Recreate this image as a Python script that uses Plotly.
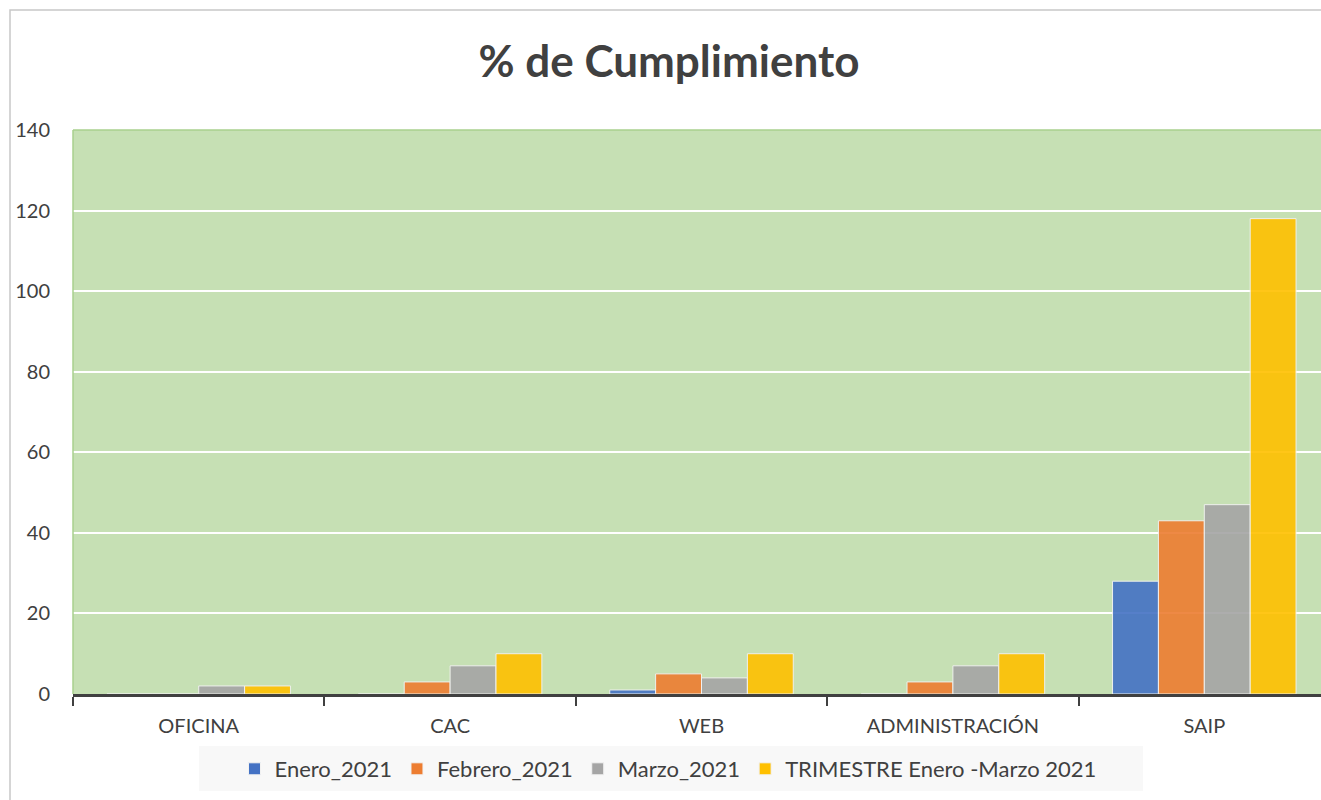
import plotly.graph_objects as go

categories = ["OFICINA", "CAC", "WEB", "ADMINISTRACIÓN", "SAIP"]
series_names = ["Enero_2021", "Febrero_2021", "Marzo_2021", "TRIMESTRE Enero -Marzo 2021"]
enero = [0, 0, 1, 0, 28]
febrero = [0, 3, 5, 3, 43]
marzo = [2, 7, 4, 7, 47]
trimestre = [2, 10, 10, 10, 118]
colors = ["#4472C4", "#ED7D31", "#A5A5A5", "#FFC000"]

FONT = "Lato"
W, H = 1321, 800
ML, MR, MT, MB = 73, 0, 130, 106
PW, PH = W - ML - MR, H - MT - MB

def px_x(p):
    return (p - ML) / PW

def px_y(p):
    return (H - MB - p) / PH

fig = go.Figure()
for name, vals, col in zip(series_names, [enero, febrero, marzo, trimestre], colors):
    fig.add_trace(go.Bar(
        name=name, x=categories, y=vals,
        marker=dict(color=col, opacity=0.9, line=dict(color="#F2F2F2", width=1)),
    ))

fig.update_layout(
    width=W, height=H,
    margin=dict(l=ML, r=MR, t=MT, b=MB),
    paper_bgcolor="white",
    plot_bgcolor="#C6E0B4",
    barmode="group",
    bargap=0.27,
    bargroupgap=0,
    font=dict(family=FONT, color="#404040"),
    title=dict(text="<b>% de Cumplimiento</b>", x=669 / W, xanchor="center",
               y=1 - 62 / H, yanchor="middle", font=dict(size=44, color="#404040", family=FONT)),
    showlegend=True,
    legend=dict(orientation="h", x=px_x(668), xanchor="center", y=px_y(769), yanchor="middle",
                bgcolor="rgba(0,0,0,0)", font=dict(size=22, color="#404040", family=FONT),
                itemwidth=30, traceorder="normal"),
    xaxis=dict(
        range=[-0.5, 4.5 - 9 / 251.5],
        showline=True, linecolor="#404040", linewidth=3,
        tickson="boundaries", ticks="outside", ticklen=9, tickwidth=2, tickcolor="#404040",
        tickfont=dict(size=20, color="#404040", family=FONT),
        ticklabelstandoff=12,
        showgrid=False,
    ),
    yaxis=dict(
        range=[0, 140], dtick=20, tick0=0,
        showgrid=True, gridcolor="white", gridwidth=2,
        zeroline=False, showline=False,
        tickfont=dict(size=20, color="#404040", family=FONT),
        ticklabelstandoff=22,
    ),
    shapes=[
        dict(type="rect", xref="paper", yref="paper",
             x0=px_x(10), x1=px_x(1340), y0=px_y(10), y1=px_y(820),
             line=dict(color="#C8C8C8", width=1.5), fillcolor="rgba(0,0,0,0)", layer="below"),
        dict(type="rect", xref="paper", yref="paper",
             x0=px_x(199), x1=px_x(1143), y0=px_y(746), y1=px_y(791),
             line=dict(width=0), fillcolor="#F8F8F8", layer="below"),
        dict(type="line", xref="paper", yref="paper",
             x0=0, x1=0, y0=0, y1=1, line=dict(color="#A9D18E", width=1.5)),
        dict(type="line", xref="paper", yref="paper",
             x0=0, x1=1, y0=1, y1=1, line=dict(color="#A9D18E", width=1.5)),
    ],
)

fig.write_html("out.html", config={"displayModeBar": False},
               post_script="document.body.style.margin='0';")
